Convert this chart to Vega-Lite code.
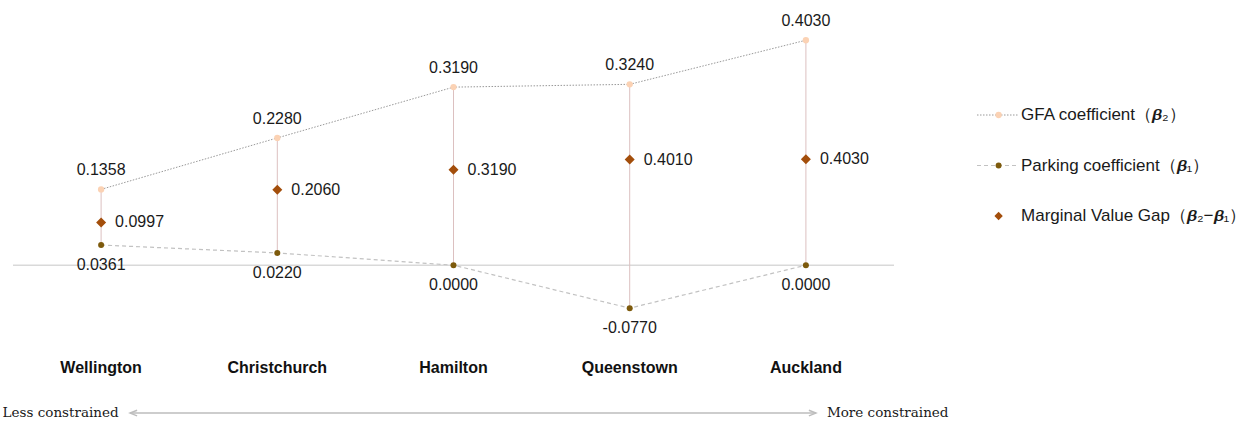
{
  "$schema": "https://vega.github.io/schema/vega-lite/v6.json",
  "padding": {"left": 2, "top": 13, "right": 0, "bottom": 0},
  "config": {
    "view": {"stroke": null},
    "axisX": {"labelFont": "Liberation Sans", "labelFontWeight": "bold", "labelFontSize": 16, "labelColor": "#111111", "labelPadding": 38, "domain": false, "ticks": false, "grid": false, "labelAngle": 0},
    "locale": {"number": {"decimal": ".", "thousands": ",", "grouping": [3], "currency": ["$", ""], "minus": "-"}},
    "text": {"font": "Liberation Sans", "fontSize": 16, "color": "#1a1a1a"}
  },
  "datasets": {
    "coef": [
      {"city": "Wellington", "gfa": 0.1358, "parking": 0.0361, "gap": 0.0997},
      {"city": "Christchurch", "gfa": 0.2280, "parking": 0.0220, "gap": 0.2060},
      {"city": "Hamilton", "gfa": 0.3190, "parking": 0.0000, "gap": 0.3190},
      {"city": "Queenstown", "gfa": 0.3240, "parking": -0.0770, "gap": 0.4010},
      {"city": "Auckland", "gfa": 0.4030, "parking": 0.0000, "gap": 0.4030}
    ],
    "legend": [
      {"key": "gfa", "order": 1, "entry": "GFA coefficient（𝜷₂）"},
      {"key": "parking", "order": 2, "entry": "Parking coefficient（𝜷₁）"},
      {"key": "gap", "order": 3, "entry": "Marginal Value Gap（𝜷₂−𝜷₁）"}
    ],
    "arrow": [
      {"side": "left", "label": "Less constrained", "city": "Wellington"},
      {"side": "right", "label": "More constrained", "city": "Auckland"}
    ]
  },
  "spacing": 27,
  "hconcat": [
    {
      "width": 881,
      "height": 307,
      "data": {"name": "coef"},
      "resolve": {"scale": {"y": "independent"}},
      "layer": [
        {
          "layer": [
            {
              "data": {"values": [{"z": 0}]},
              "mark": {"type": "rule", "color": "#d9d9d9", "strokeWidth": 1.5},
              "encoding": {"y": {"field": "z", "type": "quantitative", "scale": {"domain": [-0.1, 0.45], "nice": false}, "axis": null}}
            },
            {
              "mark": {"type": "rule", "color": "#dcc0c0", "strokeWidth": 1},
              "encoding": {
                "x": {"field": "city", "type": "nominal", "scale": {"domain": ["Wellington", "Christchurch", "Hamilton", "Queenstown", "Auckland"]}, "title": null},
                "y": {"field": "gfa", "type": "quantitative", "axis": null},
                "y2": {"field": "parking"}
              }
            },
            {
              "mark": {"type": "line", "color": "#999999", "strokeWidth": 1, "strokeDash": [1.5, 1.5]},
              "encoding": {
                "x": {"field": "city", "type": "nominal", "title": null},
                "y": {"field": "gfa", "type": "quantitative", "axis": null}
              }
            },
            {
              "mark": {"type": "line", "color": "#c2c2c2", "strokeWidth": 1.2, "strokeDash": [4, 3]},
              "encoding": {
                "x": {"field": "city", "type": "nominal", "title": null},
                "y": {"field": "parking", "type": "quantitative", "axis": null}
              }
            },
            {
              "mark": {"type": "point", "filled": true, "shape": "circle", "size": 40, "color": "#fbd2b4", "opacity": 1},
              "encoding": {
                "x": {"field": "city", "type": "nominal", "title": null},
                "y": {"field": "gfa", "type": "quantitative", "axis": null}
              }
            },
            {
              "mark": {"type": "point", "filled": true, "shape": "circle", "size": 36, "color": "#7d5a0c", "opacity": 1},
              "encoding": {
                "x": {"field": "city", "type": "nominal", "title": null},
                "y": {"field": "parking", "type": "quantitative", "axis": null}
              }
            },
            {
              "mark": {"type": "text", "dy": -19, "baseline": "middle", "align": "center"},
              "encoding": {
                "x": {"field": "city", "type": "nominal", "title": null},
                "y": {"field": "gfa", "type": "quantitative", "axis": null},
                "text": {"field": "gfa", "type": "quantitative", "format": ".4f"}
              }
            },
            {
              "mark": {"type": "text", "dy": 20, "baseline": "middle", "align": "center"},
              "encoding": {
                "x": {"field": "city", "type": "nominal", "title": null},
                "y": {"field": "parking", "type": "quantitative", "axis": null},
                "text": {"field": "parking", "type": "quantitative", "format": ".4f"}
              }
            },
            {
              "data": {"values": [{"from": "Wellington", "to": "Auckland", "level": -0.265}]},
              "mark": {"type": "rule", "color": "#bdbdbd", "strokeWidth": 1.5, "xOffset": 29, "x2Offset": 10},
              "encoding": {
                "x": {"field": "from", "type": "nominal", "title": null},
                "x2": {"field": "to"},
                "y": {"field": "level", "type": "quantitative", "axis": null}
              }
            },
            {
              "data": {"values": [{"from": "Wellington", "level": -0.265}]},
              "mark": {"type": "point", "shape": "M1,-0.8L-1,0L1,0.8", "size": 49, "filled": false, "color": "#bdbdbd", "strokeWidth": 1.5, "opacity": 1, "xOffset": 32.5},
              "encoding": {
                "x": {"field": "from", "type": "nominal", "title": null},
                "y": {"field": "level", "type": "quantitative", "axis": null}
              }
            },
            {
              "data": {"values": [{"to": "Auckland", "level": -0.265}]},
              "mark": {"type": "point", "shape": "M-1,-0.8L1,0L-1,0.8", "size": 49, "filled": false, "color": "#bdbdbd", "strokeWidth": 1.5, "opacity": 1, "xOffset": 6.5},
              "encoding": {
                "x": {"field": "to", "type": "nominal", "title": null},
                "y": {"field": "level", "type": "quantitative", "axis": null}
              }
            },
            {
              "data": {"name": "arrow"},
              "transform": [{"filter": "datum.side === 'left'"}],
              "mark": {"type": "text", "align": "right", "baseline": "middle", "dx": 17.5, "font": "DejaVu Serif", "fontSize": 13.5, "color": "#1a1a1a"},
              "encoding": {
                "x": {"field": "city", "type": "nominal", "title": null},
                "y": {"datum": -0.265, "type": "quantitative", "axis": null},
                "text": {"field": "label"}
              }
            },
            {
              "data": {"name": "arrow"},
              "transform": [{"filter": "datum.side === 'right'"}],
              "mark": {"type": "text", "align": "left", "baseline": "middle", "dx": 21, "font": "DejaVu Serif", "fontSize": 13.5, "color": "#1a1a1a"},
              "encoding": {
                "x": {"field": "city", "type": "nominal", "title": null},
                "y": {"datum": -0.265, "type": "quantitative", "axis": null},
                "text": {"field": "label"}
              }
            }
          ]
        },
        {
          "layer": [
            {
              "mark": {"type": "point", "filled": true, "shape": "diamond", "size": 100, "color": "#a34e0b", "opacity": 1},
              "encoding": {
                "x": {"field": "city", "type": "nominal", "title": null},
                "y": {"field": "gap", "type": "quantitative", "scale": {"type": "log", "domain": [0.0113, 10], "nice": false}, "axis": null}
              }
            },
            {
              "mark": {"type": "text", "dx": 14, "baseline": "middle", "align": "left"},
              "encoding": {
                "x": {"field": "city", "type": "nominal", "title": null},
                "y": {"field": "gap", "type": "quantitative", "axis": null},
                "text": {"field": "gap", "type": "quantitative", "format": ".4f"}
              }
            }
          ]
        }
      ]
    },
    {
      "width": 270,
      "height": 303,
      "data": {"name": "legend"},
      "layer": [
        {
          "transform": [{"filter": "datum.key === 'gfa'"}],
          "mark": {"type": "rule", "color": "#999999", "strokeWidth": 1, "strokeDash": [1.5, 1.5]},
          "encoding": {
            "x": {"datum": 0, "type": "quantitative", "scale": {"domain": [0, 1]}, "axis": null},
            "x2": {"datum": 0.15},
            "y": {"field": "order", "type": "quantitative", "scale": {"domain": [-1, 5], "reverse": true, "nice": false, "zero": false}, "axis": null}
          }
        },
        {
          "transform": [{"filter": "datum.key === 'parking'"}],
          "mark": {"type": "rule", "color": "#c2c2c2", "strokeWidth": 1.2, "strokeDash": [4, 3]},
          "encoding": {
            "x": {"datum": 0, "type": "quantitative", "axis": null},
            "x2": {"datum": 0.15},
            "y": {"field": "order", "type": "quantitative", "axis": null}
          }
        },
        {
          "transform": [{"filter": "datum.key === 'gfa'"}],
          "mark": {"type": "point", "filled": true, "shape": "circle", "size": 40, "color": "#fbd2b4", "opacity": 1},
          "encoding": {
            "x": {"datum": 0.08, "type": "quantitative", "axis": null},
            "y": {"field": "order", "type": "quantitative", "axis": null}
          }
        },
        {
          "transform": [{"filter": "datum.key === 'parking'"}],
          "mark": {"type": "point", "filled": true, "shape": "circle", "size": 36, "color": "#7d5a0c", "opacity": 1},
          "encoding": {
            "x": {"datum": 0.08, "type": "quantitative", "axis": null},
            "y": {"field": "order", "type": "quantitative", "axis": null}
          }
        },
        {
          "transform": [{"filter": "datum.key === 'gap'"}],
          "mark": {"type": "point", "filled": true, "shape": "diamond", "size": 70, "color": "#a34e0b", "opacity": 1},
          "encoding": {
            "x": {"datum": 0.08, "type": "quantitative", "axis": null},
            "y": {"field": "order", "type": "quantitative", "axis": null}
          }
        },
        {
          "mark": {"type": "text", "align": "left", "baseline": "middle", "fontSize": 17},
          "encoding": {
            "x": {"datum": 0.163, "type": "quantitative", "axis": null},
            "y": {"field": "order", "type": "quantitative", "axis": null},
            "text": {"field": "entry"}
          }
        }
      ]
    }
  ]
}
